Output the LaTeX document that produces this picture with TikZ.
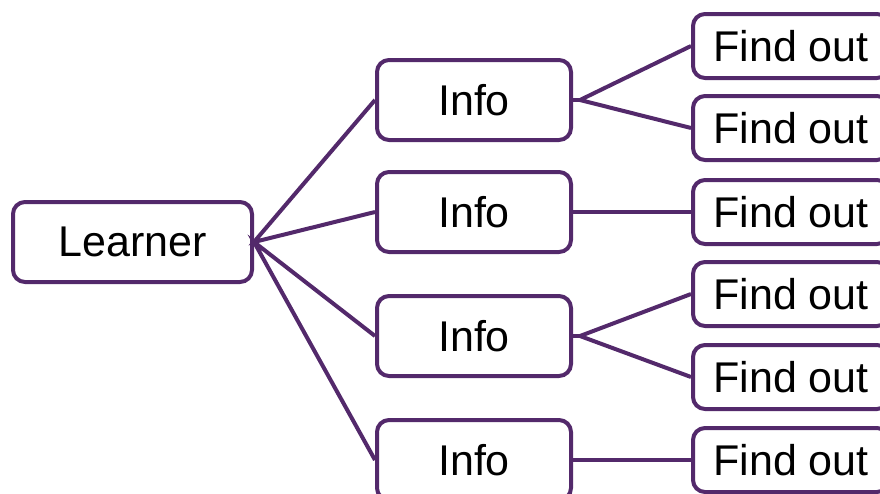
\documentclass[tikz,border=0pt]{standalone}
\usepackage{fontspec}
\setmainfont{Liberation Sans}
\definecolor{plum}{RGB}{83,41,107}
\tikzset{
  box/.style={draw=plum, line width=4pt, rounded corners=12pt,
    fill=white, inner sep=0pt, font=\fontsize{43}{48}\selectfont},
  link/.style={draw=plum, line width=4pt},
}

\begin{document}
\begin{tikzpicture}[x=1pt,y=-1pt]
  \clip (0,0) rectangle (880,493);
  \useasboundingbox (0,0) rectangle (880,493);
  % learner and its info boxes
  \node[box, minimum width=239pt, minimum height=80pt] (learner) at (132.5,242) {Learner};
  \node[box, minimum width=194pt, minimum height=80pt] (info1) at (474,100) {Info};
  \node[box, minimum width=194pt, minimum height=80pt] (info2) at (474,212) {Info};
  \node[box, minimum width=194pt, minimum height=80pt] (info3) at (474,336) {Info};
  \node[box, minimum width=194pt, minimum height=80pt] (info4) at (474,460) {Info};
  % find out boxes
  \node[box, minimum width=196pt, minimum height=64pt] (find1) at (791,46) {Find out};
  \node[box, minimum width=196pt, minimum height=64pt] (find2) at (791,128) {Find out};
  \node[box, minimum width=196pt, minimum height=64pt] (find3) at (791,212) {Find out};
  \node[box, minimum width=196pt, minimum height=64pt] (find4) at (791,294) {Find out};
  \node[box, minimum width=196pt, minimum height=64pt] (find5) at (791,377) {Find out};
  \node[box, minimum width=196pt, minimum height=64pt] (find6) at (791,460) {Find out};
  \coordinate (fork1) at (580,100);
  \coordinate (fork3) at (580,336);
  % links
  \draw[link] (info1.west) -- (learner.east) -- (info2.west);
  \draw[link] (info3.west) -- (learner.east) -- (info4.west);
  \draw[link] (info1.east) -- (fork1);
  \draw[link] (find1.west) -- (fork1) -- (find2.west);
  \draw[link] (info2.east) -- (find3.west);
  \draw[link] (info3.east) -- (fork3);
  \draw[link] (find4.west) -- (fork3) -- (find5.west);
  \draw[link] (info4.east) -- (find6.west);
\end{tikzpicture}
\end{document}
